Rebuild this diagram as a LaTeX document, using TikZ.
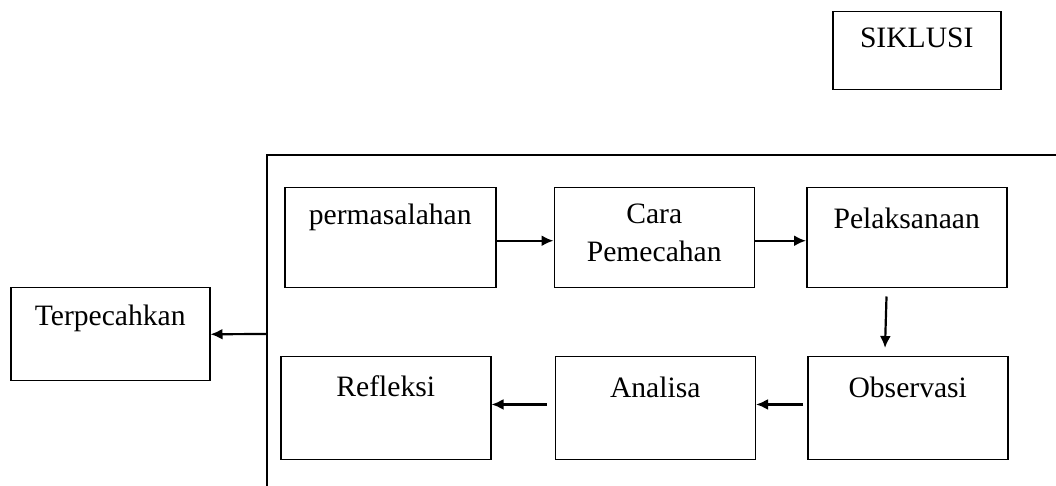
\documentclass[tikz,border=0pt]{standalone}
\usepackage{fontspec}
\setmainfont{Liberation Serif}
\usetikzlibrary{arrows.meta,positioning}

\begin{document}
\begin{tikzpicture}[x=0.5pt,y=-0.5pt,
          box/.style={draw,line width=.75pt,inner sep=0pt,align=center,text width=100pt,text height=19.5pt,text depth=30.5pt,font=\fontsize{14.8}{19}\selectfont},
          flow/.style={draw,->,line width=1.1pt,>={Latex[length=6pt,width=5.5pt]}}
        ]
        \useasboundingbox (0,0) rectangle (1056,486);

        %frame
        \draw[line width=.75pt] (1056,155) -- (267,155) -- (267,486);
        \coordinate (exit) at (267,334);

        %top row
        \node[box,anchor=north west,text width=105.5pt,text height=18.5pt,text depth=31.5pt] (perm) at (284,187) {permasalahan};
        \node[box,right=28.5pt of perm,text height=18pt,text depth=32pt] (cara) {Cara\\Pemecahan};
        \node[box,right=25.5pt of cara,text height=20.5pt,text depth=29.5pt] (pel) {Pelaksanaan};

        %bottom row
        \node[box,anchor=north west,text height=20.5pt,text depth=31pt] (obs) at (807,356) {Observasi};
        \node[box,left=25.5pt of obs,text height=20.5pt,text depth=31pt] (ana) {Analisa};
        \node[box,left=31.5pt of ana,text width=105pt,text height=20pt,text depth=31.5pt] (ref) {Refleksi};

        %outside
        \node[box,anchor=north west,text width=99.5pt,text height=19pt,text depth=27.5pt] (terp) at (10,287) {Terpecahkan};
        \node[box,anchor=north west,text width=84pt,text height=18pt,text depth=21pt] (siklus) at (832,11) {SIKLUSI};

        \path[flow] ([yshift=-1.5pt]perm.east) -- ([yshift=-1.5pt]cara.west);
        \path[flow] ([yshift=-1.5pt]cara.east) -- ([yshift=-1.5pt]pel.west);
        \path[flow,shorten <=4pt,shorten >=4pt] ([xshift=-10pt]pel.south) -- ([xshift=-11.5pt]obs.north);
        \path[flow,shorten <=2pt] ([yshift=1.9pt]obs.west) -- ([yshift=1.9pt]ana.east);
        \path[flow,shorten <=4pt] ([yshift=1.9pt]ana.west) -- ([yshift=1.9pt]ref.east);
        \path[flow] (exit) -- (terp.east);
    \end{tikzpicture}
\end{document}
